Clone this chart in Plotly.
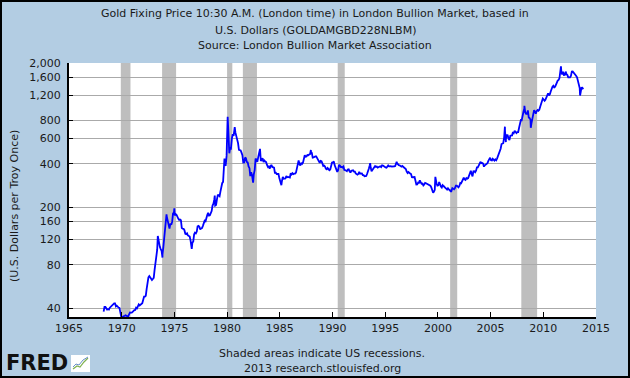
import numpy as np
import pandas as pd
import plotly.graph_objects as go

# ---------------- data ----------------
start_month = "1968-04-01"
monthly_values = [
    # 1968 Apr-Dec
    38.0, 41.0, 41.0, 39.5, 39.3, 39.5, 39.3, 40.5, 41.1,
    # 1969
    42.2, 42.6, 43.2, 43.4, 43.4, 41.3, 41.8, 41.0, 40.6, 40.4, 37.4, 35.2,
    # 1970
    34.9, 35.0, 35.1, 35.6, 35.9, 35.4, 35.3, 35.4, 36.2, 37.5, 37.4, 37.4,
    # 1971
    37.9, 38.7, 38.9, 39.0, 40.5, 40.1, 41.0, 42.7, 42.0, 42.5, 42.9, 43.5,
    # 1972
    45.8, 48.3, 48.3, 49.0, 54.6, 62.1, 65.7, 67.0, 65.5, 64.9, 62.9, 63.9,
    # 1973
    65.1, 74.2, 84.4, 90.5, 102.0, 122.5, 120.2, 106.8, 103.0, 100.1, 94.8, 106.7,
    # 1974
    129.2, 150.2, 168.4, 172.2, 163.3, 154.1, 143.0, 154.6, 151.8, 158.8, 181.7, 183.9,
    # 1975
    175.8, 180.0, 178.2, 169.9, 167.4, 164.2, 165.1, 163.2, 144.1, 142.7, 142.2, 139.3,
    # 1976
    131.5, 130.8, 132.6, 128.0, 126.8, 125.7, 117.8, 109.3, 114.3, 116.0, 130.3, 133.9,
    # 1977
    132.3, 136.3, 148.2, 149.1, 147.0, 140.8, 143.2, 144.1, 149.2, 159.0, 162.0, 160.5,
    # 1978
    173.2, 178.2, 183.7, 175.5, 176.3, 183.7, 188.7, 206.2, 212.5, 227.3, 206.0, 207.8,
    # 1979
    227.3, 245.7, 242.1, 239.2, 257.6, 279.1, 294.4, 300.8, 355.1, 391.7, 392.5, 455.1,
    # 1980
    675.3, 665.3, 553.6, 517.4, 513.8, 600.7, 644.3, 626.5, 673.6, 661.2, 623.5, 594.9,
    # 1981
    557.6, 500.4, 498.9, 495.8, 479.7, 460.8, 409.3, 410.1, 443.2, 437.8, 413.4, 410.1,
    # 1982
    384.4, 374.2, 330.0, 350.4, 333.9, 314.9, 339.3, 364.3, 436.4, 422.8, 414.1, 445.6,
    # 1983
    481.3, 491.9, 419.9, 432.9, 437.8, 412.9, 422.4, 416.3, 411.8, 393.6, 381.6, 388.1,
    # 1984
    370.9, 386.1, 394.3, 381.4, 377.3, 377.6, 347.7, 347.7, 341.1, 340.2, 341.2, 320.2,
    # 1985
    302.8, 299.1, 304.0, 324.8, 316.5, 316.6, 317.5, 329.7, 323.6, 325.3, 325.3, 322.4,
    # 1986
    345.4, 338.9, 345.7, 340.4, 342.5, 342.7, 348.5, 376.7, 418.0, 423.6, 398.1, 391.3,
    # 1987
    408.2, 401.1, 408.9, 438.4, 460.3, 449.6, 451.4, 461.2, 460.0, 465.4, 467.9, 486.3,
    # 1988
    477.1, 442.3, 443.6, 451.7, 451.5, 451.2, 437.5, 431.7, 413.4, 406.7, 420.3, 418.6,
    # 1989
    404.1, 387.8, 390.2, 384.3, 371.0, 367.6, 374.8, 365.5, 362.3, 366.7, 393.1, 409.4,
    # 1990
    410.1, 416.8, 393.1, 374.3, 369.0, 352.3, 362.5, 394.8, 389.3, 380.7, 381.9, 378.2,
    # 1991
    383.6, 363.8, 363.3, 358.4, 356.8, 366.7, 367.7, 356.4, 348.7, 358.7, 359.6, 361.7,
    # 1992
    354.5, 353.9, 344.3, 338.6, 337.2, 340.8, 352.7, 342.9, 345.2, 344.4, 335.0, 334.8,
    # 1993
    329.0, 329.4, 330.1, 342.2, 367.2, 371.9, 392.0, 379.8, 355.5, 364.2, 373.5, 383.3,
    # 1994
    386.9, 381.9, 384.1, 377.3, 381.4, 385.6, 385.5, 380.4, 391.6, 389.8, 384.4, 379.3,
    # 1995
    378.6, 376.6, 382.1, 391.0, 385.3, 387.6, 386.2, 383.8, 383.1, 383.1, 385.8, 387.1,
    # 1996
    399.5, 404.8, 396.2, 392.8, 391.9, 385.3, 383.5, 387.5, 383.1, 381.1, 377.9, 369.3,
    # 1997
    354.6, 346.8, 351.8, 344.5, 343.8, 340.8, 324.1, 323.8, 323.0, 324.9, 306.0, 288.7,
    # 1998
    289.1, 297.5, 295.9, 308.4, 299.1, 292.3, 292.9, 284.1, 289.0, 296.1, 294.1, 291.6,
    # 1999
    287.1, 287.3, 285.9, 282.6, 276.4, 261.3, 256.1, 256.7, 264.7, 310.7, 293.2, 283.1,
    # 2000
    284.3, 299.9, 286.4, 279.7, 275.1, 285.7, 281.6, 274.5, 273.7, 270.0, 266.0, 271.5,
    # 2001
    265.5, 261.9, 263.0, 260.5, 272.4, 270.2, 267.5, 272.4, 283.4, 283.1, 276.2, 275.9,
    # 2002
    281.7, 295.5, 294.1, 302.7, 314.5, 321.2, 313.3, 310.3, 319.2, 316.6, 319.2, 333.4,
    # 2003
    356.9, 359.0, 340.6, 328.2, 355.7, 356.4, 351.0, 359.8, 378.9, 378.9, 389.9, 407.6,
    # 2004
    414.0, 405.3, 406.7, 403.0, 383.4, 392.0, 398.1, 400.5, 405.3, 420.5, 439.4, 442.1,
    # 2005
    424.2, 423.4, 434.2, 429.2, 421.9, 430.7, 424.5, 437.9, 456.1, 469.9, 476.7, 510.1,
    # 2006
    549.9, 555.0, 557.1, 610.6, 676.5, 596.2, 633.8, 632.6, 598.2, 585.8, 627.8, 629.8,
    # 2007
    631.2, 664.8, 654.9, 679.4, 666.9, 655.5, 665.3, 665.4, 712.7, 754.6, 806.3, 803.2,
    # 2008
    889.6, 922.3, 968.4, 909.7, 888.7, 889.5, 939.8, 839.0, 829.9, 806.6, 760.9, 816.1,
    # 2009
    858.7, 943.2, 924.3, 890.2, 928.6, 945.7, 934.2, 949.4, 996.6, 1043.2, 1127.0, 1134.7,
    # 2010
    1117.9, 1095.4, 1113.3, 1148.7, 1205.4, 1232.9, 1192.9, 1215.8, 1271.0, 1342.0, 1369.9, 1390.6,
    # 2011
    1356.4, 1372.7, 1424.0, 1473.8, 1510.4, 1528.7, 1572.8, 1755.8, 1771.9, 1665.2, 1738.9, 1652.3,
    # 2012
    1656.1, 1742.6, 1673.8, 1649.7, 1591.2, 1598.8, 1589.9, 1630.3, 1744.8, 1746.6, 1721.6, 1684.8,
    # 2013 Jan-Oct
    1671.9, 1627.6, 1593.1, 1487.9, 1414.0, 1342.4, 1286.7, 1347.1, 1348.6, 1316.0,
]

# daily extremes visible on the chart
spike_dates = [
    "1973-06-05", "1973-11-14", "1974-04-03", "1974-12-30", "1976-08-25",
    "1978-10-31", "1979-10-02", "1980-01-21", "1980-03-18", "1980-09-22",
    "1982-06-21", "1983-02-15", "1985-02-25", "1987-12-14", "1993-07-30",
    "1996-02-02", "1999-07-20", "1999-10-05", "2001-04-02", "2006-05-12",
    "2006-06-14", "2008-03-17", "2008-10-24", "2011-09-05", "2013-06-28",
]
spike_values = [
    127.0, 90.0, 179.5, 197.5, 103.5,
    242.0, 437.0, 850.0, 474.0, 720.0,
    297.0, 509.0, 285.0, 499.8, 405.6,
    415.0, 252.8, 325.5, 256.0, 725.0,
    567.0, 1011.0, 712.5, 1895.0, 1192.0,
]

recession_starts = ["1969-12-01", "1973-11-01", "1980-01-01", "1981-07-01",
                    "1990-07-01", "2001-03-01", "2007-12-01"]
recession_ends = ["1970-11-01", "1975-03-01", "1980-07-01", "1982-11-01",
                  "1991-03-01", "2001-11-01", "2009-06-01"]

y_tick_values = [40, 80, 120, 160, 200, 400, 600, 800, 1200, 1600, 2000]
y_tick_labels = ["40", "80", "120", "160", "200", "400", "600", "800",
                 "1,200", "1,600", "2,000"]
x_tick_years = list(range(1965, 2016, 5))

# ---------------- build series ----------------
monthly_dates = pd.date_range(start_month, periods=len(monthly_values), freq="MS") + pd.Timedelta(days=14)
s = pd.concat([
    pd.Series(monthly_values, index=monthly_dates),
    pd.Series(spike_values, index=pd.to_datetime(spike_dates)),
]).sort_index()

# ---------------- layout geometry ----------------
W, H = 630, 378
L, R, T, B = 69, 34, 63, 61
PW, PH = W - L - R, H - T - B
BG = "#B3CDE3"
FONT = "DejaVu Sans"


def px(x):
    return (x - L) / PW


def py(y):
    return (H - B - y) / PH


fig = go.Figure()
fig.add_trace(go.Scatter(
    x=s.index, y=s.values, mode="lines",
    line=dict(color="#0000FF", width=1.8),
    hoverinfo="skip", showlegend=False,
))

shapes = []
for a, b in zip(recession_starts, recession_ends):
    shapes.append(dict(type="rect", xref="x", yref="paper", x0=a, x1=b, y0=0, y1=1,
                       fillcolor="#BEBEBE", line=dict(width=0), layer="between"))
# outer border
shapes.append(dict(type="rect", xref="paper", yref="paper",
                   x0=px(0), x1=px(W), y0=py(H), y1=py(0),
                   line=dict(color="#000000", width=4), fillcolor="rgba(0,0,0,0)"))
# FRED icon
shapes.append(dict(type="rect", xref="paper", yref="paper",
                   x0=px(71), x1=px(90), y0=py(372), y1=py(355),
                   line=dict(width=0), fillcolor="#FFFFFF", layer="above"))
shapes.append(dict(type="path", xref="paper", yref="paper",
                   path=f"M {px(73)},{py(369)} L {px(77)},{py(366)} L {px(80)},{py(367)} L {px(84)},{py(362)} L {px(88)},{py(358)}",
                   line=dict(color="#7FB04F", width=1.2), layer="above"))
shapes.append(dict(type="path", xref="paper", yref="paper",
                   path=f"M {px(73)},{py(367)} L {px(76)},{py(364)} L {px(79)},{py(365)} L {px(83)},{py(360)} L {px(88)},{py(357)}",
                   line=dict(color="#6A8FC8", width=1.0), layer="above"))

annotations = []
title_lines = [
    ("Gold Fixing Price 10:30 A.M. (London time) in London Bullion Market, based in", 14),
    ("U.S. Dollars (GOLDAMGBD228NLBM)", 30),
    ("Source: London Bullion Market Association", 46),
]
for txt, yy in title_lines:
    annotations.append(dict(text=txt, xref="paper", yref="paper", x=px(315), y=py(yy),
                            xanchor="center", yanchor="middle", showarrow=False,
                            font=dict(family=FONT, size=11, color="#1a1a1a")))
for txt, yy in [("Shaded areas indicate US recessions.", 353), ("2013 research.stlouisfed.org", 368)]:
    annotations.append(dict(text=txt, xref="paper", yref="paper", x=px(322), y=py(yy),
                            xanchor="center", yanchor="middle", showarrow=False,
                            font=dict(family=FONT, size=11, color="#1a1a1a")))
annotations.append(dict(text="(U.S. Dollars per Troy Once)", xref="paper", yref="paper",
                        x=px(14), y=py(206), xanchor="center", yanchor="middle",
                        textangle=-90, showarrow=False,
                        font=dict(family=FONT, size=11, color="#1a1a1a")))
annotations.append(dict(text="<b>FRED</b>", xref="paper", yref="paper",
                        x=px(4), y=py(363), xanchor="left", yanchor="middle", showarrow=False,
                        font=dict(family=FONT, size=21, color="#111111")))

fig.update_layout(
    width=W, height=H,
    margin=dict(l=L, r=R, t=T, b=B, pad=0),
    paper_bgcolor=BG, plot_bgcolor="#FFFFFF",
    font=dict(family=FONT, size=11, color="#1a1a1a"),
    shapes=shapes, annotations=annotations,
    xaxis=dict(
        type="date", range=["1965-01-01", "2015-01-01"],
        tickvals=[f"{y}-01-01" for y in x_tick_years],
        ticktext=[str(y) for y in x_tick_years],
        ticks="inside", ticklen=5, tickwidth=1, tickcolor="#000000",
        showline=True, linecolor="#000000", linewidth=2,
        showgrid=False, zeroline=False, fixedrange=True,
        tickfont=dict(family=FONT, size=11, color="#1a1a1a"),
    ),
    yaxis=dict(
        type="log", range=[np.log10(34.9), np.log10(2000)],
        tickvals=y_tick_values, ticktext=y_tick_labels,
        ticks="inside", ticklen=4, tickwidth=1, tickcolor="#000000",
        showline=True, linecolor="#000000", linewidth=2,
        showgrid=True, gridcolor="#AAAAAA", gridwidth=1,
        zeroline=False, fixedrange=True,
        tickfont=dict(family=FONT, size=11, color="#1a1a1a"),
        ticklabelstandoff=4,
    ),
)

fig.write_html(
    "out.html",
    config={"displayModeBar": False},
    post_script="document.body.style.margin='0';document.body.style.overflow='hidden';",
)
